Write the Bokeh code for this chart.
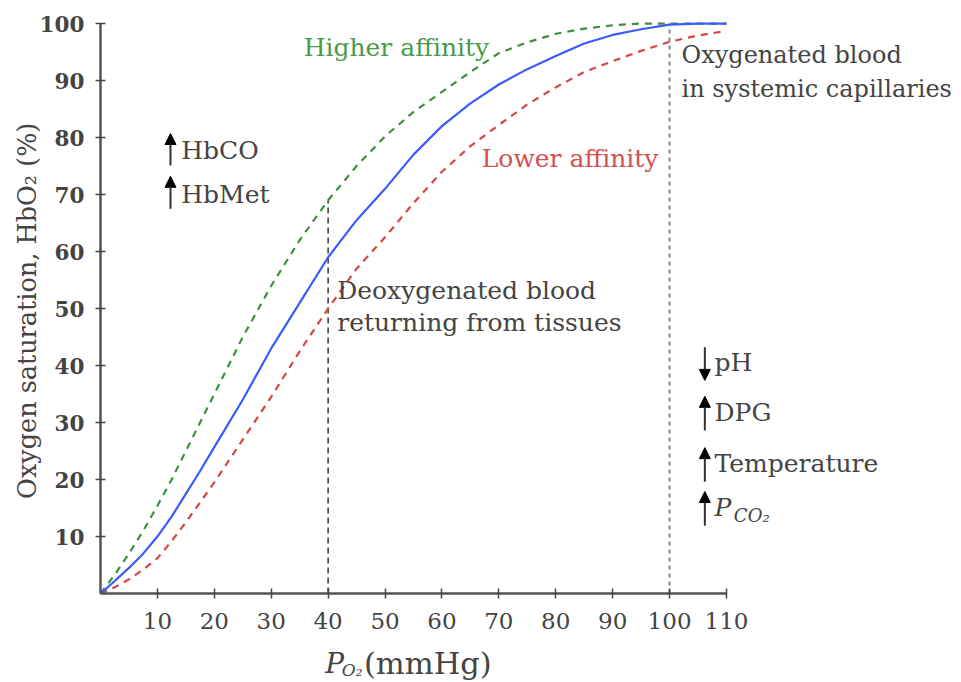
import math
from bokeh.plotting import figure
from bokeh.models import Label, Arrow, NormalHead, FixedTicker, Range1d
from bokeh.embed import file_html
from bokeh.resources import INLINE

# ---- data ----
po2 = [0, 2.5, 5, 7.5, 10, 12.5, 15, 17.5, 20, 25, 30, 35, 40, 45, 50, 55, 60, 65, 70, 75, 80, 85, 90, 95, 100, 105, 110]
normal = [0, 2.2, 4.5, 7, 10, 13.5, 17.5, 21.5, 25.7, 34, 43, 51, 59, 65.5, 71, 77, 82, 86, 89.3, 92, 94.3, 96.5, 98, 99, 99.8, 100, 100]
higher = [0, 3.3, 7, 11, 15.4, 20, 25, 30, 35, 45, 54, 62, 69, 75, 80.2, 84.5, 88, 91.5, 94.8, 96.7, 98.2, 99.1, 99.7, 100, 100, 100, 100]
lower = [0, 1.1, 2.5, 4.2, 6.2, 9.2, 12.5, 16, 19.5, 27, 34.5, 42.5, 50, 57, 62.5, 68.5, 74, 78.5, 82.2, 85.8, 88.8, 91.5, 93.4, 95.2, 96.8, 97.9, 98.7]

x_ticks = [10, 20, 30, 40, 50, 60, 70, 80, 90, 100, 110]
y_ticks = [10, 20, 30, 40, 50, 60, 70, 80, 90, 100]

marker_x = [40, 100]          # deoxygenated / oxygenated blood
marker_top = [69, 100]

FONT = "DejaVu Serif"
TXT = "#444444"

p = figure(width=961, height=682, x_range=Range1d(-17.57, 151.3), y_range=Range1d(-15.6, 104.04),
           output_backend="svg", toolbar_location=None,
           min_border_left=0, min_border_right=0, min_border_top=0, min_border_bottom=0)
p.outline_line_color = None
p.xgrid.visible = False
p.ygrid.visible = False
p.background_fill_color = "white"

for ax in (p.xaxis, p.yaxis):
    ax.axis_line_color = "#555555"
    ax.axis_line_width = 2.5
    ax.major_tick_line_color = "#444444"
    ax.major_tick_line_width = 1.5
    ax.major_tick_in = 5
    ax.major_tick_out = 5
    ax.minor_tick_line_color = None
    ax.major_label_text_font = FONT
    ax.major_label_text_color = TXT

p.xaxis.fixed_location = 0
p.yaxis.fixed_location = 0
p.xaxis.bounds = (0, 110)
p.yaxis.bounds = (0, 100)
p.xaxis.ticker = FixedTicker(ticks=x_ticks)
p.yaxis.ticker = FixedTicker(ticks=y_ticks)
p.xaxis.major_label_text_font_size = "23px"
p.xaxis.major_label_standoff = 14
p.yaxis.major_label_text_font_size = "21.5px"
p.yaxis.major_label_text_font_style = "bold"
p.yaxis.major_label_standoff = 11

# marker lines
p.segment(x0=marker_x[0], y0=0, x1=marker_x[0], y1=marker_top[0], line_color="#333333",
          line_width=1.5, line_dash="6 4")
p.segment(x0=marker_x[1], y0=0, x1=marker_x[1], y1=marker_top[1], line_color="#8a8a8a",
          line_width=2, line_dash="4 4")

# curves
p.line(po2, higher, line_color="#3f8f3f", line_width=2.2, line_dash="7 6")
p.line(po2, lower, line_color="#d64545", line_width=2.2, line_dash="7 6")
p.line(po2, normal, line_color="#3a5cff", line_width=2.2)

def lab(x, y, text, color=TXT, size="25px", style="normal", baseline="middle", align="left", angle=0):
    p.add_layout(Label(x=x, y=y, text=text, text_font=FONT, text_font_size=size,
                       text_color=color, text_font_style=style, text_baseline=baseline,
                       text_align=align, angle=angle))

# y axis title
lab(-12.9, 49.6, "Oxygen saturation, HbO₂ (%)", size="25.5px", align="center", angle=math.pi / 2)

lab(35.7, 95.8, "Higher affinity", color="#4a9a4a")
lab(67.0, 76.3, "Lower affinity", color="#d45050")
lab(102.1, 94.4, "Oxygenated blood", size="24px")
lab(102.1, 88.6, "in systemic capillaries", size="24px")
lab(41.6, 53.2, "Deoxygenated blood")
lab(41.6, 47.5, "returning from tissues")

# effect labels with arrows
left_x = [12.3]
left_up = [(75.1, 80.7, "HbCO", 77.7), (67.5, 73.2, "HbMet", 70.0)]
for y0, y1, t, ty in left_up:
    p.add_layout(Arrow(x_start=left_x[0], y_start=y0, x_end=left_x[0], y_end=y1,
                       line_color="#333333", line_width=2,
                       end=NormalHead(size=11, fill_color="black", line_color="black")))
    lab(14.2, ty, t)

right_x = [106.2]
right = [(43.2, 37.4, "pH", 40.5), (28.6, 34.6, "DPG", 31.8), (19.6, 25.6, "Temperature", 22.8),
         (11.9, 17.9, None, 15.1)]
for y0, y1, t, ty in right:
    p.add_layout(Arrow(x_start=right_x[0], y_start=y0, x_end=right_x[0], y_end=y1,
                       line_color="#333333", line_width=2,
                       end=NormalHead(size=11, fill_color="black", line_color="black")))
    if t:
        lab(107.9, ty, t)
lab(107.9, 15.1, "P", style="italic")
lab(111.3, 13.7, "CO₂", size="18px", style="italic")

# x axis title
lab(39.5, -12.3, "P", size="28px", style="italic")
lab(42.4, -13.4, "O₂", size="17px", style="italic")
lab(46.3, -12.3, "(mmHg)", size="30.5px")

open("out.html", "w").write(file_html(p, INLINE))
